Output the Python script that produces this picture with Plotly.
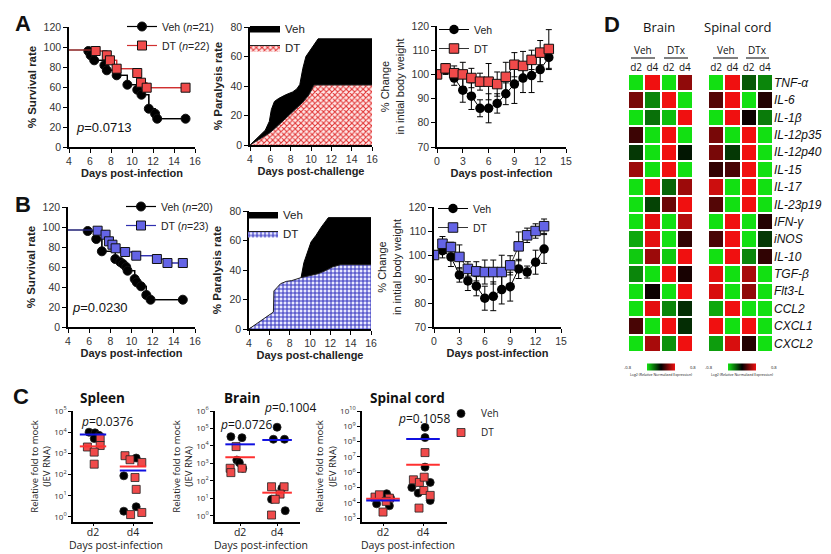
import plotly.graph_objects as go

W, H = 831, 554
def xd(a, b): return [a / W, b / W]
def yd(t, b): return [1 - b / H, 1 - t / H]
def px(x): return x / W
def py(y): return 1 - y / H

# ---------------- DATA ----------------
# A1 survival (days, % survival); first entry is the curve start
A1_veh_days = [4, 5.84, 6.06, 6.4, 7.37, 7.6, 8.54, 9.56, 10.5, 10.9, 11.6, 12.2, 12.4, 15.1]
A1_veh_surv = [97, 96, 91.7, 86.7, 81.7, 76.7, 71.7, 62.3, 57.3, 52.3, 38.3, 33.3, 28.3, 28.3]
A1_dt_days = [4, 6.54, 7.6, 7.9, 8.54, 10.5, 10.86, 11.4, 15.1]
A1_dt_surv = [97, 96, 91.7, 86.7, 78.3, 74, 64.3, 59.3, 59.3]
# B1 survival
B1_veh_days = [4, 5.86, 6.67, 7.2, 8.47, 8.94, 9.2, 9.5, 9.63, 10.3, 10.5, 10.9, 11.4, 11.8, 14.85]
B1_veh_surv = [97, 96, 88, 75.7, 68, 65, 63, 60, 56.3, 48, 44.7, 40.7, 32, 27.3, 27.3]
B1_dt_days = [4, 6.8, 7.55, 7.87, 8.2, 8.5, 9.4, 10.45, 12.4, 13.4, 14.85]
B1_dt_surv = [97, 96.3, 92.3, 85.7, 82.3, 78.7, 75, 71.3, 68, 64, 64]

# A2 / B2 paralysis rate
A2_veh_x = [4, 4.8, 5.5, 5.9, 6.1, 6.4, 6.8, 7.5, 8.2, 8.6, 8.9, 9.2, 9.5, 9.8, 10.3, 10.7, 16]
A2_veh_y = [0, 5, 10, 16, 24, 29.5, 31.5, 34, 36, 38, 41, 52, 60, 63, 68, 72, 72]
A2_dt_x = [4, 5, 5.9, 6.5, 7.2, 7.9, 8.5, 9.2, 9.8, 10.3, 16]
A2_dt_y = [0, 4, 8, 11.5, 16, 20.4, 24, 29, 34, 40.7, 40.7]
B2_veh_x = [4, 6, 8.4, 9.1, 9.4, 9.8, 10.1, 10.6, 11.1, 11.8, 16]
B2_veh_y = [0, 8, 20, 34, 45, 53, 59, 63.6, 69, 75.5, 75.5]
B2_dt_x = [4, 6.4, 6.45, 7.1, 7.67, 8.2, 9.1, 10.0, 10.8, 11.5, 12.2, 13.0, 16]
B2_dt_y = [0, 11.5, 25.8, 30.7, 32.3, 32.8, 34.8, 36.3, 37.5, 39.5, 42, 43.6, 43.6]

# A3 / B3 body weight
wt_days = [0, 1, 2, 3, 4, 5, 6, 7, 8, 9, 10, 11, 12, 13]
A3_veh = [100, 102, 98.5, 93.5, 91, 86, 86, 88, 92, 96, 98.5, 99.5, 102, 107]
A3_veh_err = [0, 2, 3, 5, 5.5, 3.5, 6, 4, 4.5, 8, 6, 7, 5, 5]
A3_dt = [100, 102.5, 100.5, 100, 98.5, 97, 97, 96, 99, 104, 103.5, 106, 109, 110.5]
A3_dt_err = [0, 2, 3, 5, 4, 3.5, 7.5, 5, 6, 5, 6, 4, 5, 8]
B3_veh = [100, 101.8, 99.2, 91.7, 89.2, 87, 82, 82.8, 85.6, 86.8, 94.2, 92.9, 97, 102.5]
B3_veh_err = [0, 3, 4, 3, 4, 4, 5, 6, 6, 6, 4, 2.5, 5, 6]
B3_dt = [100, 104.7, 103.3, 99.2, 94.2, 93.2, 92.9, 92.9, 92.9, 95.7, 103.6, 108.2, 110, 112]
B3_dt_err = [0, 3, 2, 5, 3, 4, 5, 5, 7, 4, 6, 3, 3, 3]

# C: log10 of relative fold (JEV RNA); category 0 = d2, 1 = d4; jitter offsets
C_cats = ['d2', 'd4']
sp_veh_d2 = [4.0, 3.97, 3.85, 3.7];            sp_veh_d2_j = [-0.1, 0.05, 0.15, 0.03]
sp_dt_d2 = [3.73, 3.30, 3.37, 3.06, 2.49];     sp_dt_d2_j = [0.18, -0.14, 0.18, 0.03, 0.03]
sp_veh_d4 = [1.94, 2.78, 0.27, 0.48];          sp_veh_d4_j = [-0.23, 0.08, -0.23, 0.08]
sp_dt_d4 = [2.89, 2.7, 2.57, 1.86, 1.3, 0.11, 0.21]; sp_dt_d4_j = [-0.2, -0.075, 0.22, 0.05, 0.08, -0.06, 0.22]
sp_veh_mean = [3.89, 2.19]; sp_dt_mean = [3.33, 2.38]

br_veh_d2 = [4.53, 4.47, 3.19, 3.04, 2.72];    br_veh_d2_j = [-0.25, 0.05, -0.09, -0.02, 0.07]
br_dt_d2 = [3.96, 2.72, 2.47, 2.72];           br_dt_d2_j = [-0.11, -0.27, -0.25, 0.05]
br_veh_d4 = [5.07, 4.38, 4.38, 1.57, 0.94, 0.29]; br_veh_d4_j = [0.0, -0.1, 0.2, 0.13, -0.15, 0.22]
br_dt_d4 = [1.66, 1.66, 1.24, 0.94, 0.04];     br_dt_d4_j = [-0.15, 0.19, 0.08, -0.05, -0.15]
br_veh_mean = [4.09, 4.34]; br_dt_mean = [3.35, 1.32]

sc_veh_d2 = [3.93, 4.41, 4.59, 3.8, 4.3];      sc_veh_d2_j = [-0.16, 0.0, 0.09, 0.16, 0.19]
sc_dt_d2 = [4.37, 4.52, 3.39, 4.3, 4.09];      sc_dt_d2_j = [-0.2, -0.09, 0.0, 0.16, 0.08]
sc_veh_d4 = [8.93, 8.26, 6.33, 5.0, 4.63, 5.33, 4.15]; sc_veh_d4_j = [0.05, 0.05, 0.05, -0.28, -0.12, 0.18, 0.18]
sc_dt_d4 = [5.5, 5.33, 5.67, 7.28, 4.8, 4.48, 3.65];   sc_dt_d4_j = [-0.24, -0.09, 0.03, 0.05, 0.02, 0.18, -0.1]
sc_veh_mean = [4.15, 8.17]; sc_dt_mean = [4.26, 6.48]

# D heatmaps
genes = ["TNF-α", "IL-6", "IL-1β", "IL-12p35", "IL-12p40", "IL-15", "IL-17", "IL-23p19",
         "IFN-γ", "iNOS", "IL-10", "TGF-β", "Flt3-L", "CCL2", "CXCL1", "CXCL2"]
hm_cols = ['d2', 'd4', 'd2', 'd4']
brain_z = [
    [-1, 1, -1, 0.6], [0.5, -0.6, 1, -1], [-1, -0.5, -0.85, 1], [0.25, -1, 1, -1],
    [-0.25, -1, 1, -0.1], [0.65, -1, 1, -1], [-1, 1, -0.45, 0.65], [-1, -0.3, 0.45, 1],
    [-1, 0.95, -1, 0.75], [-0.75, 0.95, -1, 0.2], [-0.9, 0.65, -0.9, 1], [-0.6, -1, 1, 0.1],
    [-1, 0.05, -1, 1], [-1, 0.95, -0.6, -0.2], [0.3, -1, 1, -0.2], [-1, 0.7, -0.65, 1]]
spinal_z = [
    [-1, 1, -0.4, -0.6], [0.35, 1, -1, 0.15], [-1, 1, 0.05, -0.55], [0.5, -1, 1, -1],
    [0.5, -0.25, 1, -1], [0.2, 0.3, 1, -1], [0.85, -1, 1, -1], [0.35, -1, 1, -1],
    [-1, 1, -1, 0.15], [0.3, 1, -1, -0.25], [-1, 1, -0.6, 0.2], [0.95, -1, 0.7, -1],
    [0.9, -1, 0.6, -1], [-0.75, 1, -1, -1], [1, -1, 1, -1], [-0.7, 0.9, 0.15, -1]]

# ---------------- FIGURE ----------------
FONT = 'Liberation Sans'
RED = '#f04a4a'
BLUE = '#6464e6'
fig = go.Figure()

def surv(ax, days, vals, name, fill, lcol, sym, leg):
    # full step curve (from start)
    fig.add_trace(go.Scatter(
        x=days, y=vals, mode='lines', line=dict(shape='hv', color=lcol, width=1.2),
        showlegend=False, hoverinfo='skip', xaxis='x' + ax, yaxis='y' + ax))
    # event markers
    fig.add_trace(go.Scatter(
        x=days[1:], y=vals[1:], mode='lines+markers', name=name, legend=leg,
        line=dict(shape='hv', color=lcol, width=1.2),
        marker=dict(symbol=sym, size=9, color=fill, opacity=1,
                    line=dict(color='#111', width=1)),
        xaxis='x' + ax, yaxis='y' + ax))

surv('', A1_veh_days, A1_veh_surv, 'Veh (<i>n</i>=21)', '#000000', 'black', 'circle', 'legend')
surv('', A1_dt_days, A1_dt_surv, 'DT (<i>n</i>=22)', RED, '#d03030', 'square', 'legend')
surv('4', B1_veh_days, B1_veh_surv, 'Veh (<i>n</i>=20)', '#000000', 'black', 'circle', 'legend4')
surv('4', B1_dt_days, B1_dt_surv, 'DT (<i>n</i>=23)', BLUE, '#3030b0', 'square', 'legend4')

def para(ax, vx, vy, dx, dy, pcol, bg, shape, leg):
    fig.add_trace(go.Scatter(x=vx, y=vy, mode='lines', fill='tozeroy', fillcolor='black',
                             line=dict(color='black', width=1), name='Veh', legend=leg,
                             xaxis='x' + ax, yaxis='y' + ax))
    fig.add_trace(go.Scatter(x=dx, y=dy, mode='lines', fill='tozeroy', fillcolor=bg,
                             fillpattern=dict(shape=shape, fgcolor=pcol, bgcolor=bg, size=4, solidity=0.45),
                             line=dict(color='#222', width=1), name='DT', legend=leg,
                             xaxis='x' + ax, yaxis='y' + ax))

para('2', A2_veh_x, A2_veh_y, A2_dt_x, A2_dt_y, '#e03030', '#ffe8e8', 'x', 'legend2')
para('5', B2_veh_x, B2_veh_y, B2_dt_x, B2_dt_y, '#3434c0', '#e8e8ff', '+', 'legend5')

def weight(ax, veh, veh_e, dt, dt_e, fill, leg):
    fig.add_trace(go.Scatter(x=wt_days, y=veh, mode='lines+markers', name='Veh', legend=leg,
                             error_y=dict(type='data', array=veh_e, color='black', thickness=1, width=3),
                             line=dict(color='black', width=1),
                             marker=dict(symbol='circle', size=9.5, color='black'),
                             xaxis='x' + ax, yaxis='y' + ax))
    fig.add_trace(go.Scatter(x=wt_days, y=dt, mode='lines+markers', name='DT', legend=leg,
                             error_y=dict(type='data', array=dt_e, color='black', thickness=1, width=3),
                             line=dict(color='#333', width=1),
                             marker=dict(symbol='square', size=9.5, color=fill, line=dict(color='#111', width=1)),
                             xaxis='x' + ax, yaxis='y' + ax))

weight('3', A3_veh, A3_veh_err, A3_dt, A3_dt_err, RED, 'legend3')
weight('6', B3_veh, B3_veh_err, B3_dt, B3_dt_err, BLUE, 'legend6')

def dots(ax, vals, jit, cat, sym, col, name, show):
    fig.add_trace(go.Scatter(x=[cat + j for j in jit], y=[10 ** v for v in vals], mode='markers',
                             marker=dict(symbol=sym, size=8, color=col, line=dict(color='#222', width=0.8)),
                             name=name, showlegend=show, legend='legend7',
                             xaxis='x' + ax, yaxis='y' + ax))

def means(ax, vm, dm, hw):
    for i, m in enumerate(dm):
        fig.add_trace(go.Scatter(x=[i - hw, i + hw], y=[10 ** m, 10 ** m], mode='lines',
                                 line=dict(color='#ff3030', width=2), showlegend=False,
                                 xaxis='x' + ax, yaxis='y' + ax))
    for i, m in enumerate(vm):
        fig.add_trace(go.Scatter(x=[i - hw, i + hw], y=[10 ** m, 10 ** m], mode='lines',
                                 line=dict(color='#1010e0', width=2), showlegend=False,
                                 xaxis='x' + ax, yaxis='y' + ax))

for ax, vd2, vd2j, dd2, dd2j, vd4, vd4j, dd4, dd4j, vm, dm, hw, show in [
    ('7', sp_veh_d2, sp_veh_d2_j, sp_dt_d2, sp_dt_d2_j, sp_veh_d4, sp_veh_d4_j, sp_dt_d4, sp_dt_d4_j, sp_veh_mean, sp_dt_mean, 0.33, False),
    ('8', br_veh_d2, br_veh_d2_j, br_dt_d2, br_dt_d2_j, br_veh_d4, br_veh_d4_j, br_dt_d4, br_dt_d4_j, br_veh_mean, br_dt_mean, 0.4, False),
    ('9', sc_veh_d2, sc_veh_d2_j, sc_dt_d2, sc_dt_d2_j, sc_veh_d4, sc_veh_d4_j, sc_dt_d4, sc_dt_d4_j, sc_veh_mean, sc_dt_mean, 0.42, True)]:
    dots(ax, vd2, vd2j, 0, 'circle', 'black', 'Veh', show)
    dots(ax, dd2, dd2j, 0, 'square', RED, 'DT', show)
    dots(ax, vd4, vd4j, 1, 'circle', 'black', 'Veh', False)
    dots(ax, dd4, dd4j, 1, 'square', RED, 'DT', False)
    means(ax, vm, dm, hw)

CS = [[0, '#12e012'], [0.5, '#000000'], [1, '#f01010']]
for ax, z, cx in [('10', brain_z, 661), ('11', spinal_z, 742)]:
    fig.add_trace(go.Heatmap(z=z, x=[0, 1, 2, 3], y=list(range(len(genes))), colorscale=CS,
                             zmin=-1, zmax=1, xgap=2, ygap=2, hoverinfo='skip',
                             colorbar=dict(orientation='h', x=px(cx), xanchor='center', y=py(367),
                                           yanchor='middle', len=48, lenmode='pixels', thickness=7,
                                           showticklabels=False, outlinewidth=0, ticks=''),
                             xaxis='x' + ax, yaxis='y' + ax))

# ---------------- AXES ----------------
tickf = dict(family=FONT, size=10.5, color='#333')
base = dict(showline=True, linecolor='black', linewidth=1.5, ticks='outside', ticklen=4,
            tickwidth=1.2, tickcolor='black', showgrid=False, zeroline=False, tickfont=tickf,
            automargin=False)

def ttl(t, size=11, st=3, fam=FONT):
    return dict(text=t, font=dict(family=fam, size=size, color='#222'), standoff=st)

L = {}
L['xaxis'] = dict(base, domain=xd(69, 195), anchor='y', range=[4, 16], dtick=2, tick0=4,
                  title=ttl('<b>Days post-infection</b>'))
L['yaxis'] = dict(base, domain=yd(27, 147), anchor='x', range=[0, 120], dtick=20,
                  title=ttl('<b>% Survival rate</b>', 11.5, 5))
L['xaxis2'] = dict(base, domain=xd(250, 372), anchor='y2', range=[4, 16], dtick=2, tick0=4,
                   title=ttl('<b>Days post-challenge</b>'))
L['yaxis2'] = dict(base, domain=yd(27, 145), anchor='x2', range=[0, 80], dtick=20,
                   title=ttl('<b>% Paralysis rate</b>', 11.5, 5))
L['xaxis3'] = dict(base, domain=xd(437, 566), anchor='y3', range=[0, 15], dtick=3,
                   title=ttl('<b>Days post-infection</b>'))
L['yaxis3'] = dict(base, domain=yd(26, 147), anchor='x3', range=[70, 120], dtick=10,
                   title=ttl('% Change<br>in intial body weight', 11, 5))
L['xaxis4'] = dict(base, domain=xd(68, 195), anchor='y4', range=[4, 16], dtick=2, tick0=4,
                   title=ttl('<b>Days post-infection</b>'))
L['yaxis4'] = dict(base, domain=yd(207, 327), anchor='x4', range=[0, 120], dtick=20,
                   title=ttl('<b>% Survival rate</b>', 11.5, 5))
L['xaxis5'] = dict(base, domain=xd(249, 371), anchor='y5', range=[4, 16], dtick=2, tick0=4,
                   title=ttl('<b>Days post-challenge</b>'))
L['yaxis5'] = dict(base, domain=yd(211, 329), anchor='x5', range=[0, 80], dtick=20,
                   title=ttl('<b>% Paralysis rate</b>', 11.5, 5))
L['xaxis6'] = dict(base, domain=xd(434, 561), anchor='y6', range=[0, 15], dtick=3,
                   title=ttl('<b>Days post-infection</b>'))
L['yaxis6'] = dict(base, domain=yd(207, 327), anchor='x6', range=[70, 120], dtick=10,
                   title=ttl('% Change<br>in intial body weight', 11, 5))

CF = 'Open Sans'
cbase = dict(base, tickfont=dict(family=CF, size=8, color='#333'), ticklen=3)
def logticks(lo, hi):
    vals = list(range(lo, hi + 1))
    return [10 ** v for v in vals], ['10<sup>%d</sup>' % v for v in vals]

ann = []
def A(x, y, t, size, fam=FONT, color='#111', xanchor='center'):
    ann.append(dict(x=px(x), y=py(y), xref='paper', yref='paper', text=t, showarrow=False,
                    font=dict(family=fam, size=size, color=color), xanchor=xanchor, yanchor='middle'))

for ax, xa, xb, xr, yr, lo, hi in [('7', 73, 153, [-0.5, 1.5], [-0.24, 5], 0, 5),
                                   ('8', 215, 300, [-0.68, 1.62], [-0.36, 6], 0, 6),
                                   ('9', 362, 447, [-0.525, 1.6], [2.74, 10], 3, 10)]:
    tv, tt = logticks(lo, hi)
    L['xaxis' + ax] = dict(cbase, domain=xd(xa, xb), anchor='y' + ax, range=xr,
                           tickvals=[0, 1], ticktext=C_cats, ticklen=2, ticklabelstandoff=-2,
                           tickfont=dict(family=CF, size=10.5, color='#222'))
    L['yaxis' + ax] = dict(cbase, domain=yd(411, 522), anchor='x' + ax, type='log', range=yr,
                           tickvals=tv, ticktext=tt,
                           title=ttl('Relative fold to mock<br>(JEV RNA)', 9.5, 2, CF))
    A((xa + xb) / 2 + 3, 545, 'Days post-infection', 10.5, CF, '#222')

hmx = dict(showline=False, showgrid=False, zeroline=False, ticks='', side='top', range=[-0.5, 3.5],
           tickvals=[0, 1, 2, 3], ticktext=hm_cols, tickfont=dict(family=CF, size=10, color='#111'),
           automargin=False)
L['xaxis10'] = dict(hmx, domain=xd(628, 693), anchor='y10')
L['yaxis10'] = dict(domain=yd(74, 352), anchor='x10', range=[15.5, -0.5], showticklabels=False,
                    showgrid=False, zeroline=False, showline=False, ticks='', automargin=False)
L['xaxis11'] = dict(hmx, domain=xd(708, 773), anchor='y11')
L['yaxis11'] = dict(domain=yd(74, 352), anchor='x11', range=[15.5, -0.5], side='right',
                    tickvals=list(range(len(genes))), ticktext=['<i>%s</i>' % g for g in genes],
                    tickfont=dict(family=FONT, size=12, color='#111'), automargin=False,
                    showgrid=False, zeroline=False, showline=False, ticks='')

legf = dict(family=FONT, size=10.5, color='#222')
def leg(x, y, size=10.5):
    return dict(x=px(x), y=py(y), xanchor='left', yanchor='top', bgcolor='rgba(0,0,0,0)',
                font=dict(legf, size=size), tracegroupgap=0, itemwidth=30)
L['legend'] = leg(122, 12)
L['legend2'] = leg(245, 14, 11.5)
L['legend3'] = leg(434, 15)
L['legend4'] = leg(121, 192)
L['legend5'] = leg(243, 200, 11.5)
L['legend6'] = leg(433, 194)
L['legend7'] = dict(leg(441, 399), font=dict(family=CF, size=10, color='#222'))

A(23, 23, '<b>A</b>', 22); A(23, 205, '<b>B</b>', 22); A(21, 396, '<b>C</b>', 22); A(612, 25, '<b>D</b>', 22)
A(104, 127, '<i>p</i>=0.0713', 13)
A(100, 307, '<i>p</i>=0.0230', 13)
A(102, 398, '<b>Spleen</b>', 13.5, CF)
A(242, 398, '<b>Brain</b>', 13.5, CF)
A(407, 398, '<b>Spinal cord</b>', 13.5, CF)
A(107, 422, '<i>p</i>=0.0376', 12, CF)
A(246, 424, '<i>p</i>=0.0726', 12, CF)
A(290, 407, '<i>p</i>=0.1004', 12, CF)
A(424, 418, '<i>p</i>=0.1058', 12, CF)
A(659, 27, 'Brain', 13, CF)
A(738, 27, 'Spinal cord', 13, CF)
for x, t in [(643, 'Veh'), (676, 'DTx'), (726, 'Veh'), (757, 'DTx')]:
    A(x, 50, t, 10, CF)
for cx in (661, 742):
    A(cx - 27, 367, '-0.8', 4, CF, xanchor='right')
    A(cx + 27, 367, '0.8', 4, CF, xanchor='left')
    A(cx, 374, 'Log2 (Relative Normalized Expression)', 3.5, CF)

shapes = []
for a, b in [(631, 655), (664, 688), (713, 738), (746, 769)]:
    shapes.append(dict(type='line', xref='paper', yref='paper', x0=px(a), x1=px(b), y0=py(58), y1=py(58),
                       line=dict(color='black', width=1)))

fig.update_layout(template='none', width=W, height=H, margin=dict(l=0, r=0, t=0, b=0, autoexpand=False),
                  paper_bgcolor='white', plot_bgcolor='rgba(0,0,0,0)', annotations=ann, shapes=shapes,
                  font=dict(family=FONT), **L)

fig.write_html("out.html", config={'displayModeBar': False},
               post_script="document.body.style.margin='0';document.body.style.padding='0';")
